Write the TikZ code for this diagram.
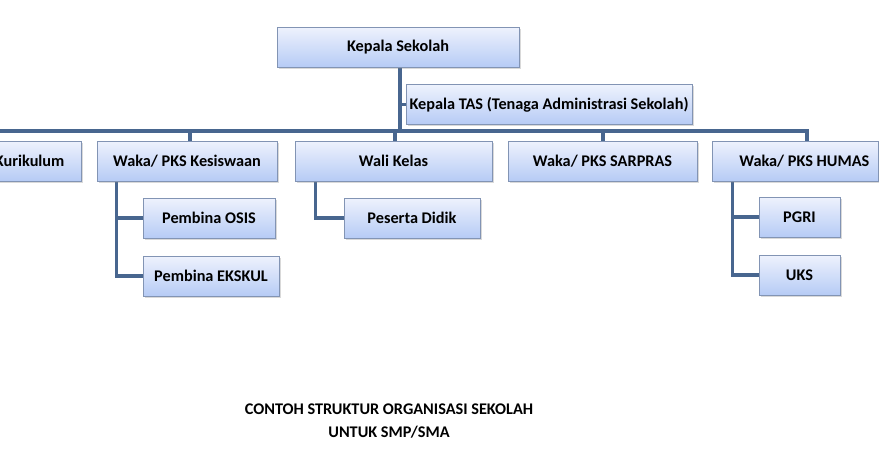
\documentclass[tikz,border=0pt]{standalone}
\usepackage{fontspec}
\setmainfont{Carlito}
\usetikzlibrary{shadows,backgrounds}
\definecolor{boxtop}{HTML}{EEF2FD}
\definecolor{boxbot}{HTML}{B6CBF5}
\definecolor{boxline}{HTML}{8294B4}
\definecolor{garis}{HTML}{48668F}
\tikzset{
  kotak/.style={draw=boxline,line width=.6pt,top color=boxtop,bottom color=boxbot,
    minimum height=30pt,inner sep=0pt,font=\fontsize{12.2}{14}\selectfont\bfseries,
    drop shadow={shadow xshift=1.4pt,shadow yshift=-1.4pt,opacity=.3}},
  sambung/.style={draw=garis,line width=2.4pt,line cap=rect}
}
\begin{document}
\begin{tikzpicture}[x=.75pt,y=-.75pt]
\useasboundingbox (0,0) rectangle (879,461);
\clip (0,0) rectangle (879,461);
% pimpinan
\node[kotak,minimum width=181.5pt] (ks) at (398,47) {Kepala Sekolah};
\node[kotak,minimum width=214.5pt] (tas) at (549,104.5) {Kepala TAS (Tenaga Administrasi Sekolah)};
% baris waka
\node[kotak,minimum width=135pt] (kur) at (-9,161) {Waka/ PKS Kurikulum};
\node[kotak,minimum width=135pt] (kes) at (187,161) {Waka/ PKS Kesiswaan};
\node[kotak,minimum width=147.75pt] (wali) at (393.5,161) {Wali Kelas};
\node[kotak,minimum width=141.75pt] (sar) at (602.5,161) {Waka/ PKS SARPRAS};
\node[kotak,minimum width=124.5pt] (hum) at (795,161) {\hspace*{14pt}Waka/ PKS HUMAS};
% bawahan
\node[kotak,minimum width=99pt] (osis) at (209,218) {Pembina OSIS};
\node[kotak,minimum width=102pt] (eks) at (211,276) {Pembina EKSKUL};
\node[kotak,minimum width=102pt] (pd) at (412,218) {Peserta Didik};
\node[kotak,minimum width=60.75pt] (pgri) at (799.5,217) {PGRI};
\node[kotak,minimum width=60.75pt] (uks) at (799.5,275) {UKS};
% judul
\node[font=\fontsize{12.2}{14}\selectfont\bfseries,align=center] (judul) at (389,421)
  {CONTOH STRUKTUR ORGANISASI SEKOLAH\\[3pt] UNTUK SMP/SMA};
% garis penghubung, di belakang kotak
\begin{scope}[on background layer]
\coordinate (cabang) at (400,131);
\coordinate (kiri) at (0,131);
\coordinate (kanan) at (807,131);
\draw[sambung] (cabang |- ks.south) -- (cabang);
\draw[sambung] (kiri) -- (kanan);
\draw[sambung] (cabang |- tas.west) -- (tas.west);
\foreach \n/\x in {kes/190,wali/395,sar/603,hum/807}
  \draw[sambung] (\x,131) -- (\x,0 |- \n.north);
\draw[sambung] ([xshift=15pt]kes.south west) |- (osis.west);
\draw[sambung] ([xshift=15pt]kes.south west) |- (eks.west);
\draw[sambung] ([xshift=15.75pt]wali.south west) |- (pd.west);
\draw[sambung] ([xshift=15.75pt]hum.south west) |- (pgri.west);
\draw[sambung] ([xshift=15.75pt]hum.south west) |- (uks.west);
\end{scope}
\end{tikzpicture}
\end{document}
